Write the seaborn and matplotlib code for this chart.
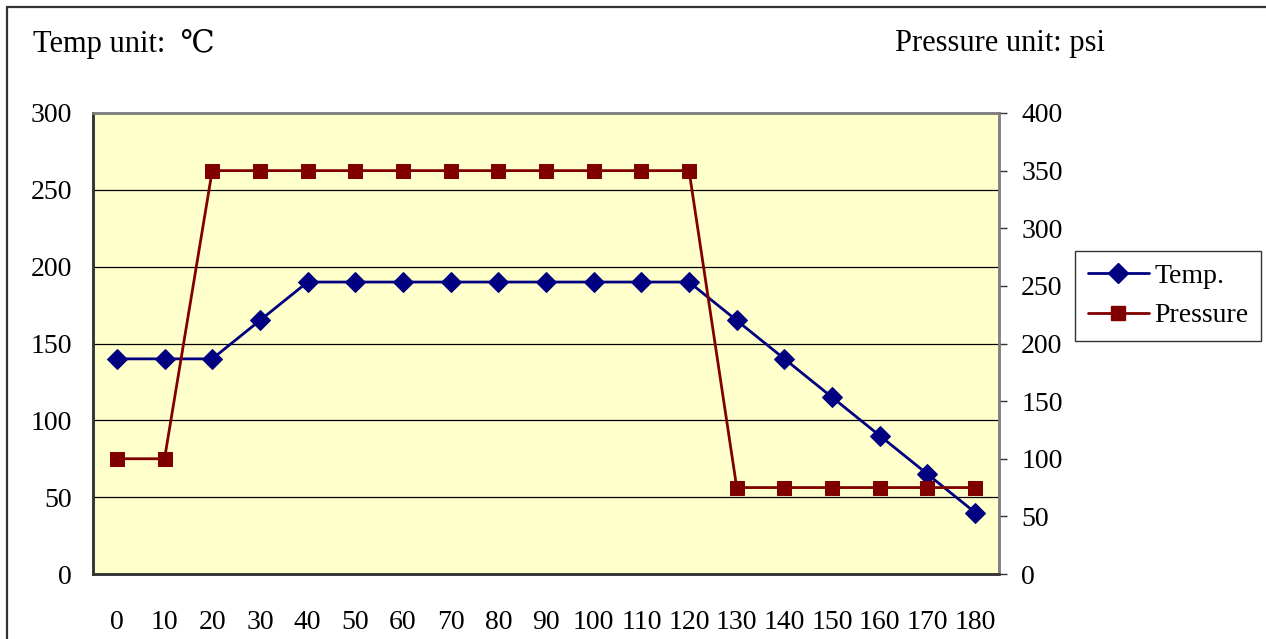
import matplotlib
matplotlib.use("Agg")
import matplotlib.pyplot as plt
import numpy as np
import pandas as pd
import seaborn as sns
from matplotlib.patches import Rectangle
from matplotlib.lines import Line2D

# time steps (x categories) and the two profiles
minutes = [0, 10, 20, 30, 40, 50, 60, 70, 80, 90, 100, 110, 120, 130, 140, 150, 160, 170, 180]
temp = [140, 140, 140, 165, 190, 190, 190, 190, 190, 190, 190, 190, 190, 165, 140, 115, 90, 65, 40]
pressure = [100, 100, 350, 350, 350, 350, 350, 350, 350, 350, 350, 350, 350, 75, 75, 75, 75, 75, 75]

temp_ticks = [0, 50, 100, 150, 200, 250, 300]
press_ticks = [0, 50, 100, 150, 200, 250, 300, 350, 400]

df = pd.DataFrame({"pos": np.arange(len(minutes)), "min": minutes,
                   "Temp.": temp, "Pressure": pressure})

sns.set_style("white")
plt.rcParams["font.family"] = ["Liberation Serif", "DejaVu Serif"]
plt.rcParams["text.color"] = "black"
plt.rcParams["xtick.labelcolor"] = "black"
plt.rcParams["ytick.labelcolor"] = "black"
fs = 20
navy = "#000080"
maroon = "#800000"

W, H = 1266, 639
fig = plt.figure(figsize=(W / 100, H / 100), dpi=100)
ax = fig.add_axes([93 / W, 1 - 574 / H, (999 - 93) / W, (574 - 113) / H])
ax.set_facecolor("#FFFFCC")

sns.lineplot(data=df, x="pos", y="Temp.", ax=ax, color=navy, marker="D",
             markersize=10.5, markeredgecolor=navy, linewidth=2, label="Temp.",
             legend=False)
ax.set_xlim(-0.5, len(minutes) - 0.5)
ax.set_ylim(0, 300)
ax.set_yticks(temp_ticks)
ax.set_yticklabels([str(t) for t in temp_ticks], fontsize=fs)
ax.yaxis.grid(True, color="black", linewidth=0.9)
ax.set_axisbelow(True)
ax.set_xticks(df["pos"])
ax.set_xticklabels([str(m) for m in minutes], fontsize=fs)
ax.set_xticks(np.arange(0.5, len(minutes) - 0.5, 1), minor=True)
ax.tick_params(axis="x", which="major", length=0, pad=26)
ax.tick_params(axis="x", which="minor", direction="in", length=8, width=1.2, color="#333333")
ax.tick_params(axis="y", length=0, pad=15)
ax.set_xlabel("")
ax.set_ylabel("")

ax2 = ax.twinx()
sns.lineplot(data=df, x="pos", y="Pressure", ax=ax2, color=maroon, marker="s",
             markersize=10.5, markeredgecolor=maroon, linewidth=2, label="Pressure",
             legend=False)
ax2.set_ylim(0, 400)
ax2.set_yticks(press_ticks)
ax2.set_yticklabels([str(t) for t in press_ticks], fontsize=fs)
ax2.tick_params(axis="y", direction="out", length=6, width=1, color="#333333", pad=10)
ax2.set_ylabel("")
ax2.set_xlim(-0.5, len(minutes) - 0.5)

for a in (ax, ax2):
    a.spines["left"].set_color("#333333")
    a.spines["bottom"].set_color("#333333")
    a.spines["top"].set_color("#808080")
    a.spines["right"].set_color("#808080")
    for s in a.spines.values():
        s.set_linewidth(1.8)

fig.text(33 / W, 1 - 44 / H, "Temp unit:  \u2103", fontsize=22, va="center", ha="left")
fig.text(895 / W, 1 - 44 / H, "Pressure unit: psi", fontsize=22, va="center", ha="left")

handles = [Line2D([], [], color=navy, marker="D", markersize=10.5, linewidth=2),
           Line2D([], [], color=maroon, marker="s", markersize=10.5, linewidth=2)]
leg = fig.legend(handles, ["Temp.", "Pressure"], loc="center left",
                 bbox_to_anchor=(1075 / W, 1 - 296 / H), fontsize=fs,
                 frameon=True, fancybox=False, edgecolor="black",
                 handlelength=2.2, handletextpad=0.2, borderpad=0.45,
                 labelspacing=0.5, borderaxespad=0)
leg.get_frame().set_linewidth(1)

# outer chart border
fig.patches.append(Rectangle((7 / W, -0.2), 2, 0.2 + 1 - 7 / H, transform=fig.transFigure,
                             fill=False, edgecolor="#333333", linewidth=1.6))

fig.savefig("out.png", dpi=100)
